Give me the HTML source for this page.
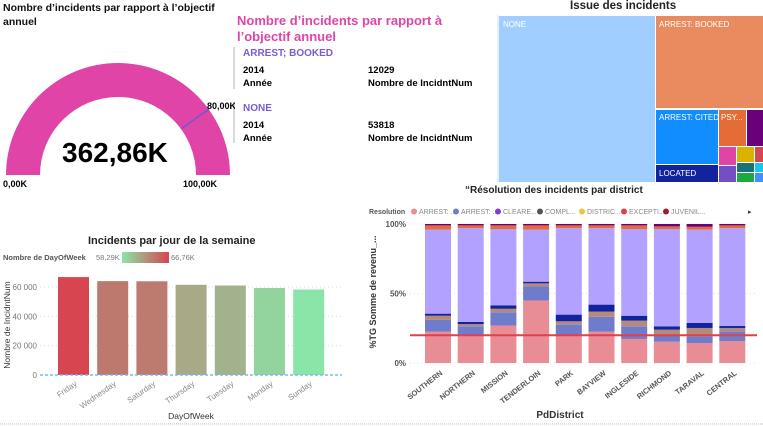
<!DOCTYPE html>
<html><head><meta charset="utf-8"><style>
body{margin:0;width:763px;height:426px;background:#fff;overflow:hidden;font-family:"Liberation Sans",sans-serif;position:relative}
.a{position:absolute;white-space:nowrap}
.b{font-weight:bold}
</style></head><body>
<div class="a b" style="left:3px;top:1px;font-size:10.5px;line-height:14px;color:#111;white-space:normal;width:230px">Nombre d’incidents par rapport à l’objectif annuel</div>
<svg class="a" style="left:0;top:0" width="763" height="426">
 <path d="M6 175 A112 112 0 0 1 230 175 L196 175 A78 78 0 0 0 40 175 Z" fill="#e044a7"/>
 <line x1="181" y1="129" x2="209" y2="109" stroke="#6a5acd" stroke-width="1.5"/>
 <line x1="234" y1="47" x2="234" y2="89" stroke="#ccc" stroke-width="1.5"/>
 <line x1="234" y1="102" x2="234" y2="143" stroke="#ccc" stroke-width="1.5"/>
 <line x1="498" y1="15" x2="498" y2="182" stroke="#cfe3f7" stroke-width="1"/>
</svg>
<div class="a b" style="left:62px;top:137px;font-size:28px;color:#000">362,86K</div>
<div class="a b" style="left:3px;top:179px;font-size:9px">0,00K</div>
<div class="a b" style="left:183px;top:179px;font-size:9px">100,00K</div>
<div class="a b" style="left:207px;top:101px;font-size:9px;width:28px;overflow:hidden">80,00K</div>

<div class="a b" style="left:237px;top:13px;font-size:13px;line-height:16px;color:#e044a7">Nombre d’incidents par rapport à<br>l’objectif annuel</div>
<div class="a b" style="left:243px;top:48px;font-size:10px;color:#7b5cd6">ARREST; BOOKED</div>
<div class="a b" style="left:243px;top:64px;font-size:9.5px;line-height:13px">2014<br>Année</div>
<div class="a b" style="left:368px;top:64px;font-size:9.5px;line-height:13px">12029<br>Nombre de IncidntNum</div>
<div class="a b" style="left:243px;top:103px;font-size:10px;color:#7b5cd6">NONE</div>
<div class="a b" style="left:243px;top:119px;font-size:9.5px;line-height:13px">2014<br>Année</div>
<div class="a b" style="left:368px;top:119px;font-size:9.5px;line-height:13px">53818<br>Nombre de IncidntNum</div>

<div class="a b" style="left:570px;top:0px;font-size:11.5px;color:#222">Issue des incidents</div>
<svg class="a" style="left:0;top:0" width="763" height="426" font-family="Liberation Sans" font-size="8" fill="#fff">
 <rect x="499" y="16" width="156" height="166" fill="#a0cfff"/><text x="503" y="27">NONE</text>
 <rect x="656" y="16" width="107" height="92" fill="#e98b5e"/><text x="659" y="27">ARREST: BOOKED</text>
 <rect x="656" y="110" width="62" height="54" fill="#118dff"/><text x="659" y="120">ARREST: CITED</text>
 <rect x="656" y="165" width="62" height="17" fill="#12239e"/><text x="659" y="176">LOCATED</text>
 <rect x="719" y="110" width="27" height="36" fill="#e66c37"/><text x="721" y="120">PSY...</text>
 <rect x="747" y="110" width="16" height="36" fill="#6b007b"/>
 <rect x="719" y="147" width="17" height="18" fill="#e044a7"/>
 <rect x="719" y="166" width="17" height="16" fill="#744ec2"/>
 <rect x="737" y="147" width="17" height="15" fill="#d9b300"/>
 <rect x="755" y="147" width="8" height="15" fill="#d64550"/>
 <rect x="737" y="163" width="17" height="9" fill="#197278"/>
 <rect x="737" y="173" width="17" height="9" fill="#1aab40"/>
 <rect x="755" y="163" width="8" height="9" fill="#15c6f4"/>
 <rect x="755" y="173" width="8" height="9" fill="#4092ff"/>
</svg>

<!-- Day of week chart -->
<div class="a b" style="left:88px;top:235px;font-size:11px;color:#222">Incidents par jour de la semaine</div>
<div class="a b" style="left:3px;top:253px;font-size:7.5px;color:#555">Nombre de DayOfWeek</div>
<div class="a" style="left:96px;top:253px;font-size:7.5px;color:#777">58,29K</div>
<div class="a" style="left:122px;top:252px;width:47px;height:11px;background:linear-gradient(90deg,#8ae6a8,#d64550)"></div>
<div class="a" style="left:171px;top:253px;font-size:7.5px;color:#777">66,76K</div>
<svg id="dow" class="a" style="left:0;top:0" width="370" height="426" font-family="Liberation Sans"></svg>

<!-- Stacked -->
<div class="a b" style="left:465px;top:185px;font-size:10px;color:#222">“Résolution des incidents par district</div>
<svg id="res" class="a" style="left:0;top:0" width="763" height="426" font-family="Liberation Sans"></svg>

<script>
const NS="http://www.w3.org/2000/svg";
function mk(p,t,a){const e=document.createElementNS(NS,t);for(const k in a)e.setAttribute(k,a[k]);p.appendChild(e);return e;}

// ---- Day of week data
const days=["Friday","Wednesday","Saturday","Thursday","Tuesday","Monday","Sunday"];
const dayCounts=[66760,64000,63900,61500,61000,59300,58290];
const dowTicks=[0,20000,40000,60000];
const dowTickLabels=["0","20 000","40 000","60 000"];
(function(){
 const s=document.getElementById('dow');
 const y0=375,yScale=v=>y0-v*(88/60000);
 const x0=58,step=39.2,bw=31;
 const mn=58290,mx=66760;
 function col(v){const t=Math.max(0,Math.min(1,(v-mn)/(mx-mn)));const a=[138,230,168],b=[214,69,80];return `rgb(${a.map((c,i)=>Math.round(c+(b[i]-c)*t)).join(',')})`;}
 dowTicks.forEach((t,i)=>{const y=yScale(t);
  if(t>0){const l=mk(s,'line',{x1:40,x2:342,y1:y,y2:y,stroke:'#ddd','stroke-dasharray':'1,3'});}
  const tx=mk(s,'text',{x:37,y:y+3,'text-anchor':'end','font-size':8,fill:'#777'});tx.textContent=dowTickLabels[i];
  });
 days.forEach((d,i)=>{const x=x0+i*step,y=yScale(dayCounts[i]);
  const r=mk(s,'rect',{x:x,y:y,width:bw,height:y0-y,fill:col(dayCounts[i])});
  
  const t=mk(s,'text',{x:x+bw/2+4,y:y0+10,'text-anchor':'end','font-size':8,fill:'#888',transform:`rotate(-35 ${x+bw/2+4} ${y0+10})`});t.textContent=d;
  });
 const bl=mk(s,'line',{x1:40,x2:342,y1:y0,y2:y0,stroke:'#7fb8ea','stroke-width':1.5,'stroke-dasharray':'3,2'});
 
 const yt=mk(s,'text',{x:10,y:325,'text-anchor':'middle','font-size':8.5,fill:'#333',transform:'rotate(-90 10 325)'});yt.textContent='Nombre de IncidntNum';
 
 const xt=mk(s,'text',{x:191,y:419,'text-anchor':'middle','font-size':8.5,fill:'#333'});xt.textContent='DayOfWeek';
 
 mk(s,'line',{x1:0,x2:365,y1:424,y2:424,stroke:'#bbb','stroke-dasharray':'1,1'});
})();

// ---- Resolution data (percent shares)
const districts=["SOUTHERN","NORTHERN","MISSION","TENDERLOIN","PARK","BAYVIEW","INGLESIDE","RICHMOND","TARAVAL","CENTRAL"];
const arrestBooked=[22.5,20.4,27,45,20.4,22.5,17.3,15.3,14.4,15.8];
const arrestCited=[8.5,6,9.5,10,7.2,10.8,9.1,5.1,4.8,7];
const otherRes=[3,1.6,2.5,2.3,2.4,3.7,4.1,3.6,6,2.4];
const located=[1.5,1.5,2.5,1.2,4.8,5,3.5,2.4,3.6,1.4];
const noneRes=[60.5,67.5,54.9,37.5,62.2,55,62.4,70,67.2,70.4];
const psycho=[3,2,2.6,3,2,2,2.6,1.9,2,2];
const topRes=[1,1,1,1,1,1,1,1.7,2,1];
const resTicks=[0,50,100];
const resTickLabels=["0%","50%","100%"];
const targetPct=20;
(function(){
 const s=document.getElementById('res');
 const y0=363,yS=v=>y0-v*1.39;
 const x0=425,step=32.7,bw=26;
 const legNames=["ARREST: ...","ARREST: ...","CLEARE...","COMPL...","DISTRIC...","EXCEPTI...","JUVENIL..."];
 const legCols=["#e88d96","#6f7ccc","#7b3fd1","#555","#e8c840","#e0404a","#a01c2c"];
 const lt=mk(s,'text',{x:369,y:214,'font-size':7,'font-weight':'bold',fill:'#555'});lt.textContent='Resolution';
 
 legNames.forEach((n,i)=>{const x=414+i*42;
  mk(s,'circle',{cx:x,cy:211.5,r:3,fill:legCols[i]});
  const t=mk(s,'text',{x:x+5,y:214,'font-size':7,fill:'#888'});t.textContent=n;
  });
 const ar=mk(s,'text',{x:748,y:214,'font-size':7,fill:'#333'});ar.textContent='▸';
 resTicks.forEach((t,i)=>{const y=yS(t);
  mk(s,'line',{x1:410,x2:755,y1:y,y2:y,stroke:'#ddd','stroke-dasharray':'1,3'});
  const tx=mk(s,'text',{x:406,y:y+3,'text-anchor':'end','font-size':8,'font-weight':'bold',fill:'#555'});tx.textContent=resTickLabels[i];
  });
 const series=[[arrestBooked,'#e88d96','booked'],[arrestCited,'#6f7ccc','cited'],[otherRes,'#b58a7a','other'],[located,'#12239e','located'],[noneRes,'#b3a1ff','none'],[psycho,'#e66c37','psych'],[topRes,'#6b007b','top']];
 districts.forEach((d,i)=>{let acc=0;const x=x0+i*step;
  series.forEach(([arr,c,n])=>{const y1=yS(acc),y2=yS(acc+arr[i]);acc+=arr[i];
   const r=mk(s,'rect',{x:x,y:y2,width:bw,height:y1-y2,fill:c});
   });
  const lx=x+bw/2+5,ly=y0+11;
  const t=mk(s,'text',{x:lx,y:ly,'text-anchor':'end','font-size':7.5,'font-weight':'bold',fill:'#555',transform:`rotate(-38 ${lx} ${ly})`});t.textContent=d;
  });
 const ty=yS(targetPct);
 const tl=mk(s,'line',{x1:410,x2:757,y1:ty,y2:ty,stroke:'#e0404a','stroke-width':2});
 
 const yt=mk(s,'text',{x:376,y:292,'text-anchor':'middle','font-size':9,'font-weight':'bold',fill:'#333',transform:'rotate(-90 376 292)'});yt.textContent='%TG Somme de revenu_...';
 
 const xt=mk(s,'text',{x:560,y:418,'text-anchor':'middle','font-size':10,'font-weight':'bold',fill:'#333'});xt.textContent='PdDistrict';
 
 mk(s,'line',{x1:366,x2:763,y1:424,y2:424,stroke:'#bbb','stroke-dasharray':'1,1'});
})();
</script>
</body></html>
